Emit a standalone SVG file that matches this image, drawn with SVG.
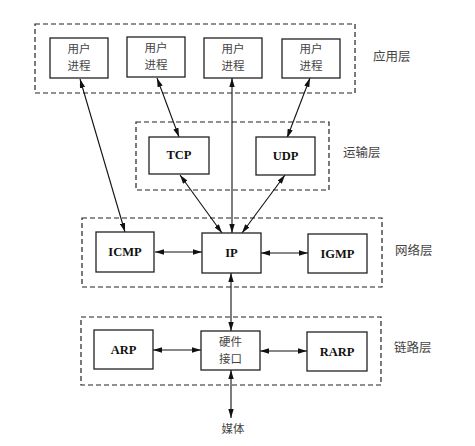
<svg xmlns="http://www.w3.org/2000/svg" width="475" height="446" viewBox="0 0 475 446">
<style>
.layer{fill:none;stroke:#222;stroke-width:1.2;stroke-dasharray:5,3}
.box{fill:#fff;stroke:#222;stroke-width:1.3}
.cn{font-family:"Noto Sans CJK SC","Noto Sans",sans-serif;font-size:11.5px;fill:#444;text-anchor:middle}
.lbl{font-family:"Noto Sans CJK SC","Noto Sans",sans-serif;font-size:12.5px;fill:#444}
.en{font-family:"Liberation Serif",serif;font-size:12.5px;font-weight:bold;fill:#111;text-anchor:middle}
.c{stroke:#111;stroke-width:1.1;fill:none;marker-start:url(#a);marker-end:url(#a)}
</style>
<defs>
<marker id="a" viewBox="0 0 10 6" refX="10" refY="3" markerWidth="9" markerHeight="5.4" markerUnits="userSpaceOnUse" orient="auto-start-reverse">
<path d="M0,0 L10,3 L0,6 Z" fill="#111"/>
</marker>
</defs>
<rect width="475" height="446" fill="#fff"/>
<g id="layers">
<rect class="layer" x="35" y="24" width="320" height="69"/>
<rect class="layer" x="136" y="122" width="193" height="68"/>
<rect class="layer" x="82" y="218" width="300" height="69"/>
<rect class="layer" x="81" y="317" width="300" height="68"/>
<text class="lbl" x="373" y="61">应用层</text>
<text class="lbl" x="343" y="157">运输层</text>
<text class="lbl" x="395" y="255">网络层</text>
<text class="lbl" x="394" y="352">链路层</text>
</g>
<g id="connectors">
<line class="c" x1="80" y1="79" x2="125" y2="232"/>
<line class="c" x1="157" y1="78" x2="179" y2="137"/>
<line class="c" x1="232" y1="78" x2="232" y2="233"/>
<line class="c" x1="310" y1="78" x2="287" y2="138"/>
<line class="c" x1="180" y1="175" x2="222" y2="233"/>
<line class="c" x1="285" y1="175" x2="242" y2="233"/>
<line class="c" x1="155" y1="252" x2="202" y2="252"/>
<line class="c" x1="261" y1="253" x2="308" y2="253"/>
<line class="c" x1="231" y1="273" x2="231" y2="331"/>
<line class="c" x1="153" y1="350" x2="201" y2="350"/>
<line class="c" x1="260" y1="351" x2="307" y2="351"/>
<line class="c" x1="231" y1="370" x2="231" y2="418"/>
</g>
<g id="app1"><rect class="box" x="50" y="38" width="58" height="40"/><text class="cn" x="79" y="53">用户<tspan x="79" dy="17">进程</tspan></text></g>
<g id="app2"><rect class="box" x="127" y="37" width="58" height="40"/><text class="cn" x="156" y="52">用户<tspan x="156" dy="17">进程</tspan></text></g>
<g id="app3"><rect class="box" x="204" y="38" width="58" height="40"/><text class="cn" x="233" y="53">用户<tspan x="233" dy="17">进程</tspan></text></g>
<g id="app4"><rect class="box" x="282" y="39" width="58" height="39"/><text class="cn" x="311" y="53">用户<tspan x="311" dy="17">进程</tspan></text></g>
<g id="tcp"><rect class="box" x="149" y="137" width="60" height="37"/><text class="en" x="179" y="159">TCP</text></g>
<g id="udp"><rect class="box" x="256" y="137" width="59" height="38"/><text class="en" x="285.5" y="160">UDP</text></g>
<g id="icmp"><rect class="box" x="96" y="232" width="58" height="40"/><text class="en" x="125" y="256">ICMP</text></g>
<g id="ip"><rect class="box" x="202" y="233" width="59" height="40"/><text class="en" x="231.5" y="257">IP</text></g>
<g id="igmp"><rect class="box" x="308" y="234" width="59" height="39"/><text class="en" x="337.5" y="258">IGMP</text></g>
<g id="arp"><rect class="box" x="94" y="330" width="59" height="39"/><text class="en" x="123.5" y="354">ARP</text></g>
<g id="hw"><rect class="box" x="201" y="331" width="59" height="39"/><text class="cn" x="230.5" y="346">硬件<tspan x="230.5" dy="17">接口</tspan></text></g>
<g id="rarp"><rect class="box" x="307" y="332" width="60" height="39"/><text class="en" x="337" y="356">RARP</text></g>
<g id="media"><text class="cn" x="233" y="433">媒体</text></g>
</svg>
